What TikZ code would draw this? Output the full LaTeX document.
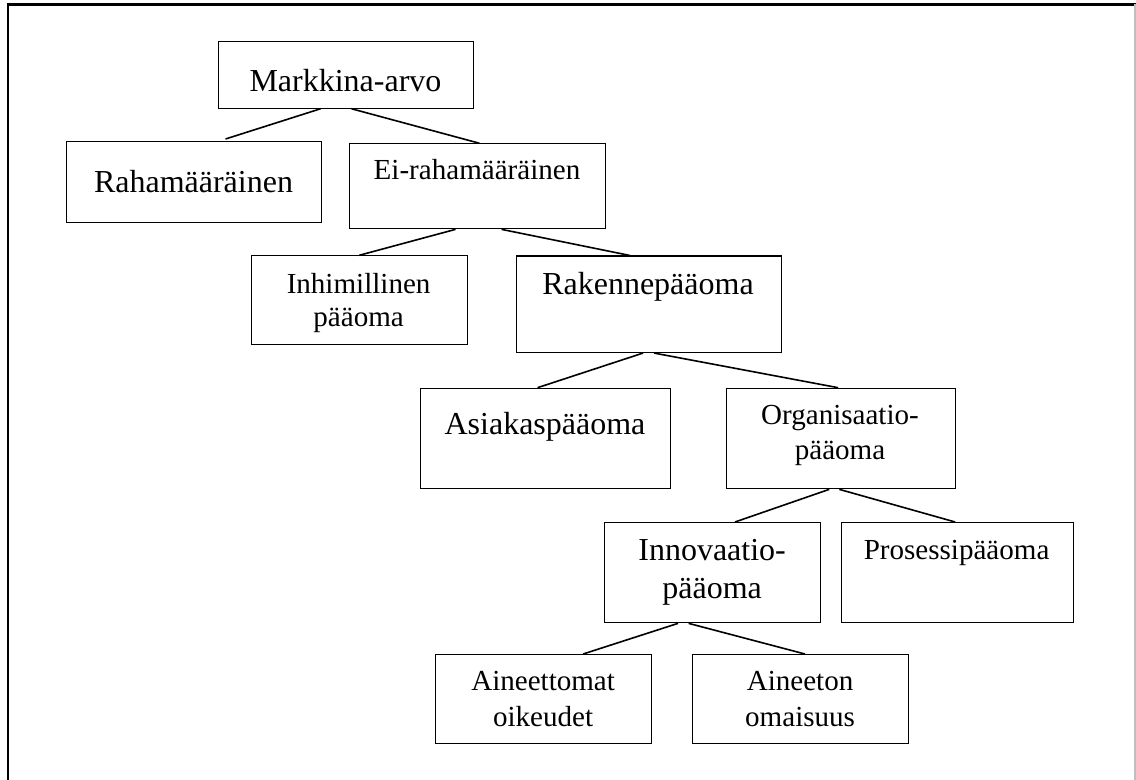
\documentclass[tikz,border=0pt]{standalone}
\usepackage{fontspec}
\setmainfont{Liberation Serif}
\begin{document}
\begin{tikzpicture}[x=0.75pt,y=-0.75pt,
  box/.style={draw,line width=0.8pt,rectangle,inner sep=0pt,anchor=north west},
  big/.style={font=\fontsize{24}{27}\selectfont,anchor=base,inner sep=0pt},
  small/.style={font=\fontsize{21.8}{25}\selectfont,anchor=base,inner sep=0pt},
  link/.style={line width=1.2pt}]
\useasboundingbox (0,0) rectangle (1136,780);
% frame
\draw[line width=1.6pt] (8,780) -- (8,4.5) -- (1136,4.5);
\draw[line width=0.8pt,black!25] (1135,4.5) -- (1135,780);

% boxes
\node[box,minimum width=255pt*0.75,minimum height=67pt*0.75] (m) at (218,40.7) {};
\node[box,minimum width=255pt*0.75,minimum height=81pt*0.75] (r) at (66,141) {};
\node[box,minimum width=256pt*0.75,minimum height=85pt*0.75] (e) at (349,143.3) {};
\node[box,minimum width=216pt*0.75,minimum height=89pt*0.75] (i) at (250.7,255.3) {};
\node[box,minimum width=265pt*0.75,minimum height=96.5pt*0.75] (rk) at (516,255.5) {};
\node[box,minimum width=250pt*0.75,minimum height=100.6pt*0.75] (a) at (420,387.7) {};
\node[box,minimum width=229pt*0.75,minimum height=100.6pt*0.75] (o) at (725.6,387.7) {};
\node[box,minimum width=215.4pt*0.75,minimum height=100.3pt*0.75] (in) at (604.4,522) {};
\node[box,minimum width=232pt*0.75,minimum height=100.3pt*0.75] (p) at (840.6,522) {};
\node[box,minimum width=215.4pt*0.75,minimum height=89.3pt*0.75] (ae) at (435.4,654) {};
\node[box,minimum width=215.4pt*0.75,minimum height=89.3pt*0.75] (ao) at (692.4,654) {};

% labels
\node[big] (tm) at (345.5,91.7) {Markkina-arvo};
\node[big] (tr) at (193.5,192.7) {Rahamääräinen};
\node[small] (te) at (477,180) {Ei-rahamääräinen};
\node[small] (ti1) at (358.6,293.3) {Inhimillinen};
\node[small] (ti2) at (358.6,327) {pääoma};
\node[big] (trk) at (648,295) {Rakennepääoma};
\node[big] (ta) at (545,435) {Asiakaspääoma};
\node[small] (to1) at (840,425) {Organisaatio-};
\node[small] (to2) at (840,460) {pääoma};
\node[big] (tin1) at (712.1,561) {Innovaatio-};
\node[big] (tin2) at (712.1,599) {pääoma};
\node[small] (tp) at (956.6,560) {Prosessipääoma};
\node[small] (tae1) at (543.1,690) {Aineettomat};
\node[small] (tae2) at (543.1,726.7) {oikeudet};
\node[small] (tao1) at (800.1,690) {Aineeton};
\node[small] (tao2) at (800.1,726.7) {omaisuus};

% connectors
\draw[link] ([xshift=-25.5*0.75pt]m.south) -- ([xshift=31.5*0.75pt,yshift=1.5pt]r.north);
\draw[link] ([xshift=5.5*0.75pt]m.south) -- ([xshift=2*0.75pt]e.north);
\draw[link] ([xshift=-22*0.75pt]e.south) -- (i.north);
\draw[link] ([xshift=24*0.75pt]e.south) -- ([xshift=-19*0.75pt]rk.north);
\draw[link] ([xshift=-6*0.75pt]rk.south) -- ([xshift=-8*0.75pt]a.north);
\draw[link] ([xshift=5*0.75pt]rk.south) -- ([xshift=-2.5*0.75pt]o.north);
\draw[link] ([xshift=-11.4*0.75pt]o.south) -- ([xshift=22.4*0.75pt]in.north);
\draw[link] ([xshift=-1.3*0.75pt]o.south) -- ([xshift=-2*0.75pt]p.north);
\draw[link] ([xshift=-34.6*0.75pt]in.south) -- ([xshift=39.5*0.75pt]ae.north);
\draw[link] ([xshift=-24*0.75pt]in.south) -- ([xshift=4.3*0.75pt]ao.north);
\end{tikzpicture}
\end{document}
